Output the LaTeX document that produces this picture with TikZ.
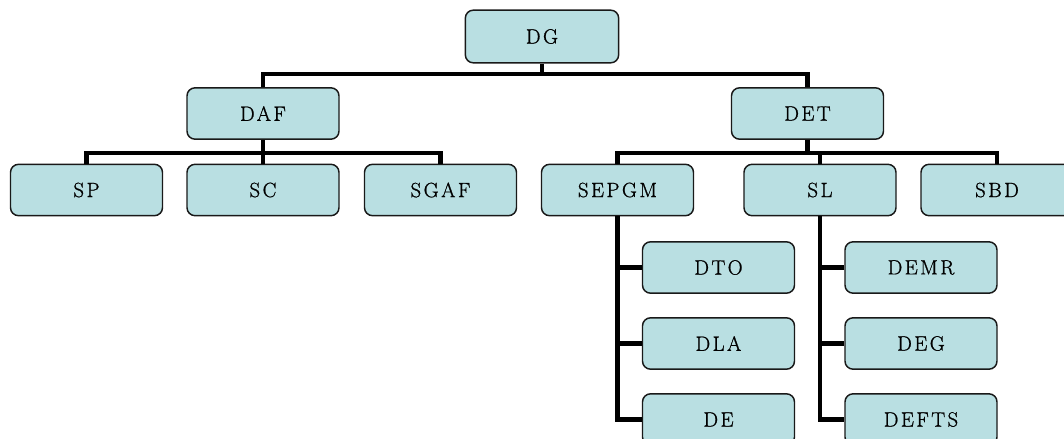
\documentclass[tikz,border=0pt]{standalone}
\usepackage{fontspec}
\newfontfamily\boxfont{Latin Modern Roman}[LetterSpace=12,FakeBold=0.9]
\definecolor{boxfill}{RGB}{185,223,226}
\definecolor{boxline}{RGB}{25,25,25}
\begin{document}
\begin{tikzpicture}[x=0.75pt,y=-0.75pt,
  orgbox/.style={draw=boxline,line width=1.1pt,fill=boxfill,rounded corners=6pt,
    minimum width=114pt,minimum height=38.5pt,inner sep=0pt,
    font=\boxfont\fontsize{15.5}{17}\selectfont,text=black},
  link/.style={line width=3.3pt,black}]
\useasboundingbox (0,0) rectangle (1064,439);
\clip (0,0) rectangle (1064,439);

% levels of the horizontal bars
\coordinate (topbar) at (0,74);
\coordinate (dafbar) at (0,153);
\coordinate (detbar) at (0,153);

% boxes
\node[orgbox,minimum width=115pt,minimum height=39.5pt] (DG) at (542,36.5) {DG};
\node[orgbox] (DAF) at (263,113.5) {DAF};
\node[orgbox] (DET) at (807.5,113.5) {DET};

\node[orgbox] (SP) at (86.5,190) {SP};
\node[orgbox] (SC) at (263,190) {SC};
\node[orgbox] (SGAF) at (440.5,190) {SGAF};
\node[orgbox] (SEPGM) at (617.5,190) {SEPGM};
\node[orgbox] (SL) at (820,190) {SL};
\node[orgbox] (SBD) at (997,190) {SBD};

\node[orgbox] (DTO) at (718.5,267.5) {DTO};
\node[orgbox] (DLA) at (718.5,343.5) {DLA};
\node[orgbox] (DE) at (718.5,419.5) {DE};
\node[orgbox] (DEMR) at (921,267.5) {DEMR};
\node[orgbox] (DEG) at (921,343.5) {DEG};
\node[orgbox] (DEFTS) at (921,419.5) {DEFTS};

% connectors
\draw[link] (DG.south) -- (DG.south |- topbar);
\draw[link] (DAF.north) -- (DAF.north |- topbar) -- (DET.north |- topbar) -- (DET.north);

\draw[link] (DAF.south) -- (SC.north);
\draw[link] (SP.north) -- (SP.north |- dafbar) -- (SGAF.north |- dafbar) -- (SGAF.north);

\draw[link] (DET.south) -- (DET.south |- detbar);
\draw[link] (SEPGM.north) -- (SEPGM.north |- detbar) -- (SBD.north |- detbar) -- (SBD.north);
\draw[link] (SL.north) -- (SL.north |- detbar);

\draw[link] (SEPGM.south) |- (DE.west);
\draw[link] (DTO.west) -- (DTO.west -| SEPGM.south);
\draw[link] (DLA.west) -- (DLA.west -| SEPGM.south);

\draw[link] (SL.south) |- (DEFTS.west);
\draw[link] (DEMR.west) -- (DEMR.west -| SL.south);
\draw[link] (DEG.west) -- (DEG.west -| SL.south);
\end{tikzpicture}
\end{document}
